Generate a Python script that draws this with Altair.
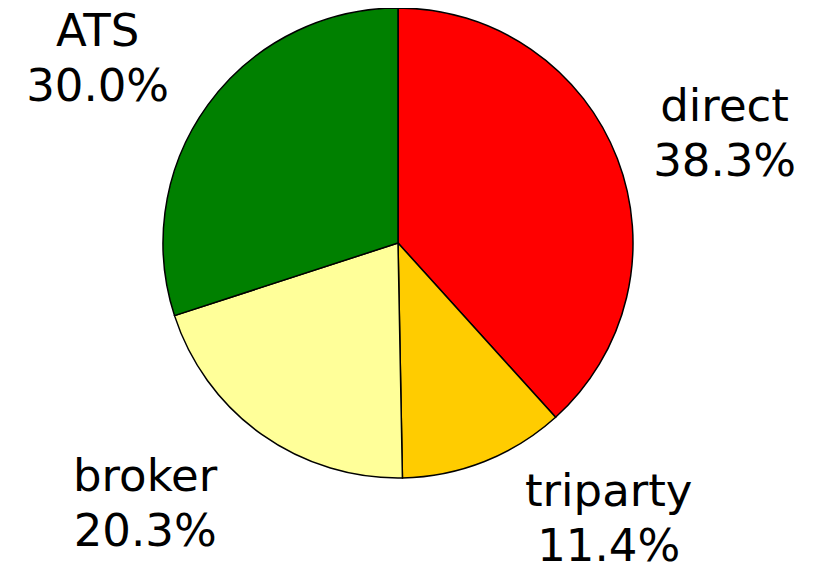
import altair as alt
import pandas as pd

categories = ["direct", "triparty", "broker", "ATS"]
values = [38.3, 11.4, 20.3, 30.0]
colors = ["#FF0000", "#FFCC00", "#FFFF99", "#008000"]

df = pd.DataFrame({"category": categories, "value": values, "idx": list(range(len(categories)))})

CX, CY = 390, 235
R_PIE = 235
R_LAB = 260
FONT = "DejaVu Sans"
FS = 45
LH = 55

base = alt.Chart(df)

pie = base.mark_arc(radius=R_PIE, stroke="black", strokeWidth=1.5).encode(
    theta=alt.Theta("value:Q", stack=True),
    order=alt.Order("idx:Q"),
    color=alt.Color("category:N", scale=alt.Scale(domain=categories, range=colors), legend=None),
    x=alt.value(CX),
    y=alt.value(CY),
)

lab_base = base.transform_joinaggregate(
    total="sum(value)"
).transform_window(
    cum="sum(value)", sort=[alt.SortField("idx")], frame=[None, 0]
).transform_calculate(
    mid="(datum.cum - datum.value/2)/datum.total*2*PI",
    label="datum.category + '\\n' + format(datum.value, '.1f') + '%'",
).transform_calculate(
    lx=f"{CX} + {R_LAB}*sin(datum.mid)",
    ly=f"{CY} - {R_LAB}*cos(datum.mid)",
)

# offsets of the label block centre from the polar anchor point
offsets = {"direct": (84, -15), "triparty": (115, 35), "broker": (-102, 50), "ATS": (-90, -31)}

layers = [pie]
for cat in categories:
    dx, dy = offsets[cat]
    layers.append(
        lab_base.transform_filter(alt.datum.category == cat).mark_text(
            align="center", baseline="middle", font=FONT, fontSize=FS,
            lineHeight=LH, lineBreak="\n", color="black", dx=dx, dy=dy - LH / 2,
        ).encode(
            x=alt.X("lx:Q", scale=None),
            y=alt.Y("ly:Q", scale=None),
            text="label:N",
        )
    )

chart = alt.layer(*layers).properties(
    width=797, height=555, padding=0,
    autosize=alt.AutoSizeParams(type="none"),
).configure_view(stroke=None)

chart.save("out.html", embed_options={"renderer": "svg", "actions": False})
